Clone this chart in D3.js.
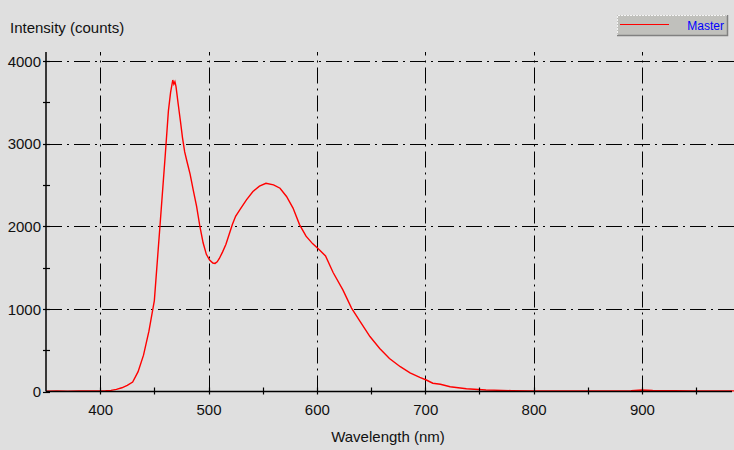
<!DOCTYPE html>
<html><head><meta charset="utf-8">
<script src="https://cdn.jsdelivr.net/npm/d3@7"></script>
<style>
html,body{margin:0;padding:0;background:#dfdfdf;}
svg{display:block;font-family:"Liberation Sans",Arial,sans-serif;}
</style></head>
<body>
<svg id="chart" width="734" height="450"></svg>
<script>
const wavelengths = [350,360,370,380,390,400,405,410,415,420,425,430,435,440,445,450,455,460,463,465,467,468,469,470,472,474,476,478,480,483,486,489,492,495,498,501,504,506,508,510,513,516,519,522,525,529,535,541,547,553,560,566,572,578,584,590,596,602,608,615,624,632,640,649,658,667,677,686,695,701,707,714,723,738,756,780,800,850,890,900,910,950,985];
const intensity = [5,6,5,6,7,8,10,14,25,45,75,115,240,440,730,1100,1970,2850,3400,3620,3770,3720,3750,3690,3480,3280,3070,2900,2790,2630,2430,2240,2000,1800,1660,1590,1555,1550,1570,1610,1690,1780,1900,2020,2120,2200,2320,2420,2485,2520,2500,2460,2360,2220,2020,1880,1790,1720,1640,1440,1230,1010,845,665,520,400,300,225,170,139,100,88,58,34,18,10,8,7,10,18,12,8,7];
const xMajorTicks = [400,500,600,700,800,900];
const xMinorTicks = [450,550,650,750,850,950];
const yMajorTicks = [0,1000,2000,3000,4000];
const yMinorTicks = [500,1500,2500,3500];
const seriesName = "Master";

const svg = d3.select("#chart");
const x = d3.scaleLinear().domain([350,985]).range([46,734]);
const y = d3.scaleLinear().domain([0,4000]).range([391.5,61]);
const px = v => Math.round(v) + 0.5;

// grid
const dash = "16,5,2,5";
svg.append("g").selectAll("line").data(xMajorTicks).join("line")
  .attr("x1",d=>px(x(d))).attr("x2",d=>px(x(d))).attr("y1",y(0)).attr("y2",52)
  .attr("stroke","#000").attr("stroke-width",1).attr("stroke-dasharray",dash);
svg.append("g").selectAll("line").data(yMajorTicks.filter(d=>d>0)).join("line")
  .attr("x1",x(350)).attr("x2",734).attr("y1",d=>px(y(d))).attr("y2",d=>px(y(d)))
  .attr("stroke","#000").attr("stroke-width",1).attr("stroke-dasharray",dash);

// curve
const line = d3.line().x((d,i)=>x(wavelengths[i])).y(d=>y(d));
svg.append("path").datum(intensity).attr("d",line)
  .attr("fill","none").attr("stroke","#ff0000").attr("stroke-width",1.4);

// axes
const xAxis = d3.axisBottom(x).tickValues(xMajorTicks).tickSize(0).tickFormat(d3.format("d"));
const gx = svg.append("g").attr("transform",`translate(0,${y(0)})`).call(xAxis);
gx.select(".domain").attr("d",`M${x(350)},0H732`).attr("stroke","#000").attr("stroke-width",1.5);
gx.selectAll(".tick text").attr("dy",0).attr("y",23).attr("font-size",15).attr("fill","#111")
  .attr("font-family","Liberation Sans, Arial, sans-serif");
svg.append("g").selectAll("line").data(xMajorTicks.concat(xMinorTicks)).join("line")
  .attr("x1",d=>px(x(d))).attr("x2",d=>px(x(d))).attr("y1",y(0)-4).attr("y2",y(0)+3)
  .attr("stroke","#000").attr("stroke-width",1.2);

const yAxis = d3.axisLeft(y).tickValues(yMajorTicks).tickSize(0).tickFormat(d3.format("d"));
const gy = svg.append("g").attr("transform",`translate(${x(350)},0)`).call(yAxis);
gy.select(".domain").attr("d",`M0,52V${y(0)}`).attr("stroke","#000").attr("stroke-width",1.5);
gy.selectAll(".tick text").attr("x",-5).attr("dy","0.35em").attr("font-size",15).attr("fill","#111")
  .attr("font-family","Liberation Sans, Arial, sans-serif");
svg.append("g").selectAll("line").data(yMajorTicks.concat(yMinorTicks)).join("line")
  .attr("x1",x(350)-3).attr("x2",x(350)+4).attr("y1",d=>px(y(d))).attr("y2",d=>px(y(d)))
  .attr("stroke","#000").attr("stroke-width",1.2);

// titles
svg.append("text").attr("x",10).attr("y",33).attr("font-size",15).attr("fill","#111").text("Intensity (counts)");
svg.append("text").attr("x",388).attr("y",442).attr("text-anchor","middle").attr("font-size",15).attr("fill","#111").text("Wavelength (nm)");

// legend
const lg = svg.append("g");
lg.append("rect").attr("x",617).attr("y",15).attr("width",110).attr("height",21).attr("fill","#c0c0bc");
lg.append("path").attr("d","M617.5,36V15.5H727").attr("fill","none").attr("stroke","#f4f4f4").attr("stroke-dasharray","2,1");
lg.append("path").attr("d","M617,35.5H727.5V15").attr("fill","none").attr("stroke","#808080").attr("stroke-width",1.5);
lg.append("line").attr("x1",620).attr("x2",669).attr("y1",24.5).attr("y2",24.5).attr("stroke","#ff0000").attr("stroke-width",1);
lg.append("text").attr("x",724).attr("y",30).attr("text-anchor","end").attr("font-size",12).attr("fill","#0000ff").text(seriesName);
</script>
</body></html>
